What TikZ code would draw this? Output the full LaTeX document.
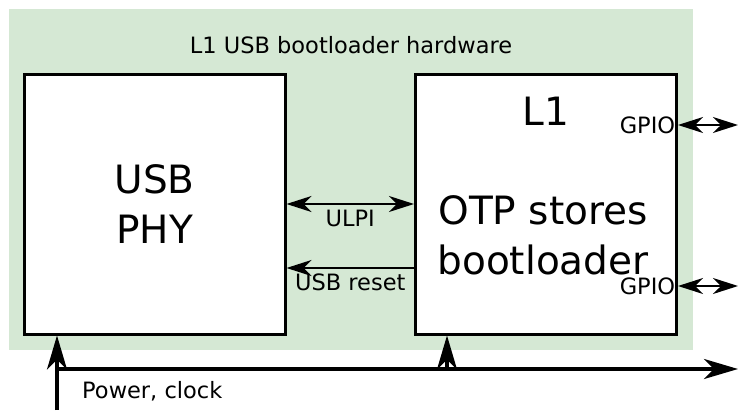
\documentclass[tikz,border=0pt]{standalone}
\usepackage{fontspec}
\setmainfont{DejaVu Sans}
\usepackage{tikz}
\definecolor{bggreen}{RGB}{213, 232, 212}
\usetikzlibrary{arrows.meta, positioning}

\begin{document}
\begin{tikzpicture}[x=1pt, y=-1pt,
			>={Stealth[length=25pt, width=16pt, inset=8pt]},   %Voreinstellung für Pfeilspitzen
			block/.style={draw, line width=3pt, fill=white, minimum width=261pt, minimum height=260pt, inner sep=0pt},
			big/.style={font=\fontsize{39}{50}\selectfont, align=center},
			small/.style={font=\fontsize{22.5}{26}\selectfont, inner sep=2pt},
			sig/.style={line width=1.7pt},
			pwr/.style={line width=3.5pt, -{Stealth[length=34pt, width=20pt, inset=10pt]}}]
			%Rahmen
			\useasboundingbox (0,0) rectangle (738,412);
			\node[fill=bggreen, minimum width=684pt, minimum height=341pt, inner sep=0pt] (hw) at (351,179.5) {};
			\node[small] (title) at ([yshift=-36pt]hw.north) {L1 USB bootloader hardware};
			% Bausteine
			\node[block, big] (phy) at (154.5,204) {USB\\PHY};
			\node[block] (otp) at (546,204) {};
			\node[big] (l1) at ([yshift=-39pt]otp.north) {L1};
			\node[big] (store) at ([xshift=-3pt, yshift=-31pt]otp.center) {OTP stores\\bootloader};
			% Verbindungen
			\draw[sig, <->] (otp.west) -- node[small, below=3pt] {ULPI} (phy.east);
			\draw[sig, ->] ([yshift=-64pt]otp.west) -- node[small, below=3pt] {USB reset} ([yshift=-64pt]phy.east);
			% GPIO
			\coordinate (gpioa) at (738,125);
			\coordinate (gpiob) at (738,286);
			\draw[sig, <->] (otp.east |- gpioa) node[small, left] {GPIO} -- (gpioa);
			\draw[sig, <->] (otp.east |- gpiob) node[small, left] {GPIO} -- (gpiob);
			% Versorgung
			\coordinate (pin) at (57,410);
			\coordinate (pbus) at (57,369);
			\coordinate (pend) at (738,369);
			\coordinate (ptap) at (447,369);
			\draw[pwr] (pin) -- (pin |- phy.south);
			\draw[pwr] (pbus) -- (pend);
			\draw[pwr] (ptap) -- (ptap |- otp.south);
			\node[small, anchor=west] (pwrlabel) at (80,391) {Power, clock};
		\end{tikzpicture}
\end{document}
